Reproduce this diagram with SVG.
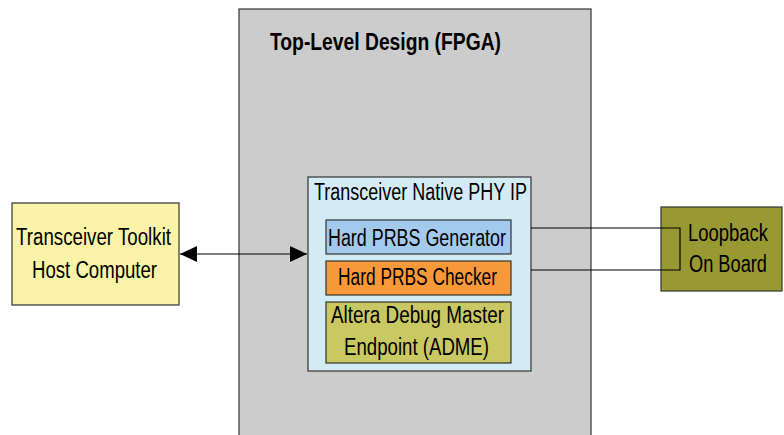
<svg xmlns="http://www.w3.org/2000/svg" width="784" height="435" viewBox="0 0 784 435">
<defs>
<style>
.t{font-family:"Liberation Sans Narrow","Liberation Sans",Arial,sans-serif;font-size:23px;fill:#000}
.b{font-weight:bold}
.box{stroke:#333;stroke-width:1.2}
.ln{stroke:#000;stroke-width:1.2;fill:none}
</style>
<marker id="ah" viewBox="0 0 17 16" refX="17" refY="8" markerWidth="17" markerHeight="16" markerUnits="userSpaceOnUse" orient="auto-start-reverse">
<path d="M0,0 L17,8 L0,16 z" fill="#000"/>
</marker>
</defs>
<rect width="784" height="435" fill="#fff"/>
<g id="fpga">
<rect class="box" x="239" y="9" width="352" height="430" fill="#cccccc" stroke="#555"/>
<text class="t b" x="270" y="50" font-size="24" textLength="231" lengthAdjust="spacingAndGlyphs">Top-Level Design (FPGA)</text>
</g>
<g id="toolkit">
<rect class="box" x="12" y="203" width="167" height="102" fill="#faf3a8"/>
<text class="t" x="16" y="245" textLength="155" lengthAdjust="spacingAndGlyphs">Transceiver Toolkit</text>
<text class="t" x="32" y="278" textLength="125" lengthAdjust="spacingAndGlyphs">Host Computer</text>
</g>
<g id="phy">
<rect class="box" x="308" y="177" width="223" height="194" fill="#d3ecf4"/>
<text class="t" x="314" y="200" textLength="213" lengthAdjust="spacingAndGlyphs">Transceiver Native PHY IP</text>
</g>
<g id="generator">
<rect class="box" x="326" y="220" width="185" height="34" fill="#a3c9ec"/>
<text class="t" x="328" y="246" textLength="178" lengthAdjust="spacingAndGlyphs">Hard PRBS Generator</text>
</g>
<g id="checker">
<rect class="box" x="326" y="261" width="185" height="34" fill="#f7993a"/>
<text class="t" x="338" y="285" textLength="159" lengthAdjust="spacingAndGlyphs">Hard PRBS Checker</text>
</g>
<g id="adme">
<rect class="box" x="326" y="302" width="185" height="61" fill="#c9c863"/>
<text class="t" x="331" y="323" textLength="173" lengthAdjust="spacingAndGlyphs">Altera Debug Master</text>
<text class="t" x="344" y="355" textLength="145" lengthAdjust="spacingAndGlyphs">Endpoint (ADME)</text>
</g>
<g id="loopback">
<rect class="box" x="661" y="207" width="121" height="84" fill="#999933"/>
<text class="t" x="728" y="241" font-size="21" text-anchor="middle" textLength="80" lengthAdjust="spacingAndGlyphs">Loopback</text>
<text class="t" x="728" y="272" font-size="21" text-anchor="middle" textLength="78" lengthAdjust="spacingAndGlyphs">On Board</text>
</g>
<g id="connectors">
<line class="ln" x1="180" y1="254" x2="307" y2="254" marker-start="url(#ah)" marker-end="url(#ah)"/>
<polyline class="ln" points="531,228 680,228 680,270 531,270"/>
</g>
</svg>
